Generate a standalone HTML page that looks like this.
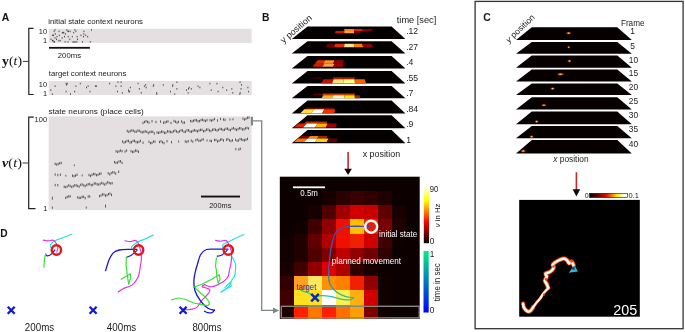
<!DOCTYPE html>
<html><head><meta charset="utf-8"><title>Figure</title>
<style>html,body{margin:0;padding:0;background:#fff;}body{width:685px;height:332px;overflow:hidden;font-family:"Liberation Sans",sans-serif;}svg{display:block;will-change:transform}</style>
</head><body>
<svg width="685" height="332" viewBox="0 0 685 332" font-family="Liberation Sans, sans-serif">
<text x="1.7" y="21.1" font-size="10.4" text-anchor="start" fill="#111" font-weight="bold">A</text>
<text x="48.2" y="24.0" font-size="7.8" text-anchor="start" fill="#1a1a1a" textLength="94.8" lengthAdjust="spacingAndGlyphs">initial state context neurons</text>
<rect x="48.7" y="28.8" width="203" height="14.1" fill="#e4e0e1"/>
<text x="47.1" y="33.6" font-size="7.4" text-anchor="end" fill="#1a1a1a">10</text>
<text x="47.1" y="42.7" font-size="7.4" text-anchor="end" fill="#1a1a1a">1</text>
<path d="M33.5 28.3H28.8V94.5H33.7" fill="none" stroke="#222" stroke-width="1.2"/>
<path d="M22.8 61.4H28.8" stroke="#222" stroke-width="0.9"/>
<rect x="49" y="46.9" width="40.9" height="1.8" fill="#111"/>
<text x="69.4" y="57.6" font-size="7.7" text-anchor="middle" fill="#1a1a1a" textLength="23.2" lengthAdjust="spacingAndGlyphs">200ms</text>
<text x="2.1" y="65.3" font-family="Liberation Serif, serif" font-size="13" fill="#111" textLength="20" lengthAdjust="spacingAndGlyphs"><tspan font-weight="bold">y</tspan>(<tspan font-style="italic">t</tspan>)</text>
<text x="48.8" y="76.1" font-size="7.8" text-anchor="start" fill="#1a1a1a" textLength="77.5" lengthAdjust="spacingAndGlyphs">target context neurons</text>
<rect x="48.7" y="81" width="203" height="14" fill="#e4e0e1"/>
<text x="47.1" y="86.7" font-size="7.4" text-anchor="end" fill="#1a1a1a">10</text>
<text x="47.1" y="95.5" font-size="7.4" text-anchor="end" fill="#1a1a1a">1</text>
<path d="M63.8 31.9v1.5M66.8 29.2v1.5M53.1 39.9v1.5M54.0 41.2v1.5M52.5 39.9v1.5M59.1 30.6v1.5M68.4 30.6v1.5M60.2 39.9v1.5M68.0 41.2v1.5M55.3 33.2v1.5M76.8 41.2v1.5M90.3 41.2v1.5M74.9 29.2v1.5M91.5 29.2v1.5M73.7 31.9v1.5M62.3 31.9v1.5M73.0 41.2v1.5M63.1 31.9v1.5M54.4 41.2v1.5M77.2 35.9v1.5M54.1 30.6v1.5M74.0 41.2v1.5M58.8 39.9v1.5M68.2 35.9v1.5M69.8 38.6v1.5M65.4 33.2v1.5M83.8 33.2v1.5M53.5 34.6v1.5M72.3 35.9v1.5M81.0 34.6v1.5M75.9 30.6v1.5M55.0 37.2v1.5M57.0 35.9v1.5M56.5 38.6v1.5M67.9 30.6v1.5M82.5 41.2v1.5M83.5 35.9v1.5M64.5 35.9v1.5M75.3 41.2v1.5M83.9 30.6v1.5M85.7 34.6v1.5M70.1 30.6v1.5M52.6 34.6v1.5M77.5 38.6v1.5M62.1 37.2v1.5M87.7 35.9v1.5M51.0 38.6v1.5M65.1 41.2v1.5M55.0 29.2v1.5M59.3 34.6v1.5M75.9 85.4v1.5M129.6 90.8v1.5M66.1 90.8v1.5M130.3 86.8v1.5M226.7 89.4v1.5M222.8 86.8v1.5M191.3 88.1v1.5M186.5 89.4v1.5M241.5 84.1v1.5M66.6 84.1v1.5M96.4 85.4v1.5M52.4 93.4v1.5M86.5 86.8v1.5M50.8 89.4v1.5M156.9 93.4v1.5M163.3 84.1v1.5M188.1 92.1v1.5M240.0 81.5v1.5M141.3 92.1v1.5M128.5 89.4v1.5M128.8 90.8v1.5M176.9 81.5v1.5M88.1 85.4v1.5M138.1 82.8v1.5M118.0 81.5v1.5M70.5 93.4v1.5M80.3 82.8v1.5M239.8 93.4v1.5M55.1 85.4v1.5M172.8 84.1v1.5M176.9 88.1v1.5M170.5 90.8v1.5M74.6 90.8v1.5M248.6 90.8v1.5M146.1 86.8v1.5M67.2 82.8v1.5M199.9 86.8v1.5M145.7 84.1v1.5M153.3 85.4v1.5M240.2 92.1v1.5M122.4 92.1v1.5M232.8 92.1v1.5M109.6 82.8v1.5M189.2 86.8v1.5M153.7 84.1v1.5M121.1 85.4v1.5M156.5 92.1v1.5M115.9 85.4v1.5M172.6 85.4v1.5M211.2 89.4v1.5M198.0 85.4v1.5M90.0 90.8v1.5M121.1 81.5v1.5M247.9 86.8v1.5M144.4 85.4v1.5M188.5 88.1v1.5M139.4 88.1v1.5M241.0 88.1v1.5M66.1 82.8v1.5M95.4 85.4v1.5M117.5 90.8v1.5M174.8 93.4v1.5M218.1 90.8v1.5M231.8 88.1v1.5M209.9 82.8v1.5M216.9 82.8v1.5" stroke="#262626" stroke-width="0.8" fill="none"/>
<text x="48.4" y="113.7" font-size="8" text-anchor="start" fill="#1a1a1a" textLength="95.3" lengthAdjust="spacingAndGlyphs">state neurons (place cells)</text>
<rect x="48.6" y="116.3" width="203" height="93.8" fill="#e4e0e1"/>
<text x="47.1" y="122.1" font-size="7.5" text-anchor="end" fill="#1a1a1a">100</text>
<text x="47.3" y="210.5" font-size="7.5" text-anchor="end" fill="#1a1a1a">1</text>
<path d="M33.8 117.2H28.7V208.6H35.5" fill="none" stroke="#222" stroke-width="1.2"/>
<path d="M22.5 163H29" stroke="#222" stroke-width="0.9"/>
<text x="2" y="167" font-family="Liberation Serif, serif" font-size="13" fill="#111" textLength="20" lengthAdjust="spacingAndGlyphs"><tspan font-style="italic" font-weight="bold">&#957;</tspan>(<tspan font-style="italic">t</tspan>)</text>
<rect x="201" y="195.6" width="39" height="1.9" fill="#111"/>
<text x="220.3" y="208" font-size="7.2" text-anchor="middle" fill="#1a1a1a" textLength="22" lengthAdjust="spacingAndGlyphs">200ms</text>
<path d="M143.0 121.7v2.4M144.5 120.8v2.4M146.0 120.0v2.4M147.5 120.7v2.4M149.0 121.4v2.4M152.0 120.1v2.4M156.0 120.8v2.4M160.5 120.4v2.4M163.5 121.5v2.4M165.0 121.2v2.4M166.5 120.6v2.4M168.0 120.2v2.4M171.0 121.8v2.4M174.0 119.8v2.4M175.5 120.6v2.4M177.0 121.4v2.4M178.5 120.7v2.4M181.5 120.3v2.4M183.0 121.5v2.4M184.5 121.4v2.4M190.5 119.8v2.4M192.0 120.2v2.4M193.5 119.6v2.4M195.0 119.0v2.4M196.5 119.1v2.4M198.0 120.1v2.4M199.5 119.9v2.4M201.0 118.9v2.4M202.5 118.6v2.4M204.0 119.3v2.4M205.5 119.8v2.4M207.0 118.9v2.4M210.0 118.9v2.4M211.5 119.5v2.4M213.0 118.8v2.4M214.5 117.8v2.4M217.5 119.3v2.4M220.5 117.8v2.4M223.5 118.3v2.4M225.0 118.7v2.4M230.0 118.5v2.0M233.0 118.3v2.0M243.0 117.4v2.4M244.5 118.3v2.4M246.0 117.7v2.4M247.5 116.5v2.4M249.0 116.4v2.4M127.3 129.8v2.4M128.8 130.7v2.4M130.3 129.9v2.4M131.8 129.2v2.4M133.3 129.5v2.4M134.8 130.5v2.4M136.3 130.5v2.4M137.8 129.4v2.4M139.3 129.6v2.4M140.8 130.6v2.4M142.3 131.2v2.4M143.8 130.7v2.4M145.3 130.2v2.4M146.8 130.6v2.4M148.3 131.8v2.4M149.8 130.9v2.4M151.3 130.6v2.4M152.8 130.6v2.4M154.3 132.2v2.4M157.0 131.3v2.4M158.5 131.7v2.4M160.0 131.2v2.4M161.5 130.5v2.4M163.0 130.7v2.4M164.5 131.7v2.4M166.0 131.6v2.4M167.5 130.1v2.4M169.0 130.3v2.4M170.5 130.8v2.4M172.0 131.1v2.4M173.5 130.1v2.4M175.0 129.4v2.4M176.5 130.2v2.4M178.0 131.0v2.4M179.5 130.2v2.4M181.0 129.1v2.4M182.5 129.4v2.4M184.0 130.7v2.4M185.5 130.5v2.4M187.0 129.1v2.4M188.5 129.1v2.4M190.0 130.3v2.4M191.5 130.5v2.4M193.0 129.7v2.4M194.5 129.0v2.4M196.0 129.6v2.4M197.5 130.1v2.4M199.0 129.3v2.4M200.5 128.7v2.4M202.0 128.7v2.4M203.5 130.0v2.4M205.0 129.7v2.4M206.5 128.4v2.4M208.0 128.3v2.4M209.5 129.3v2.4M211.0 129.9v2.4M212.5 128.6v2.4M214.0 128.2v2.4M215.5 128.6v2.4M217.0 129.3v2.4M218.5 128.7v2.4M220.0 127.7v2.4M221.5 127.9v2.4M223.0 128.9v2.4M224.5 128.5v2.4M226.0 127.5v2.4M227.5 127.5v2.4M229.0 128.5v2.4M230.5 129.0v2.4M232.0 127.6v2.4M233.5 126.9v2.4M235.0 127.9v2.4M236.5 128.7v2.4M238.0 127.9v2.4M239.5 127.1v2.4M241.0 127.2v2.4M242.5 128.3v2.4M244.0 128.1v2.4M245.5 127.1v2.4M247.0 126.7v2.4M248.5 127.3v2.4M122.5 140.3v2.4M124.0 141.4v2.4M125.5 140.7v2.4M127.0 139.8v2.4M128.5 139.8v2.4M130.0 141.3v2.4M131.5 141.0v2.4M133.0 139.7v2.4M134.5 139.7v2.4M136.0 140.8v2.4M137.5 141.1v2.4M139.0 140.7v2.4M140.5 139.7v2.4M143.0 141.5v2.4M149.0 140.6v2.4M150.5 142.0v2.4M152.0 141.7v2.4M153.5 140.3v2.4M155.0 140.5v2.4M159.5 140.8v2.4M161.0 140.1v2.4M162.5 141.1v2.4M164.0 141.9v2.4M167.0 140.0v2.4M171.5 141.0v2.4M178.6 140.5v2.0M185.3 140.3v2.4M186.8 140.7v2.4M188.3 140.0v2.4M191.3 139.4v2.4M192.8 140.4v2.4M195.8 139.0v2.4M197.3 138.3v2.4M198.8 139.5v2.4M200.3 139.6v2.4M201.8 138.6v2.4M203.3 138.2v2.4M207.0 139.5v2.0M210.0 139.6v2.4M211.5 139.9v2.4M214.5 138.8v2.4M216.0 138.8v2.4M217.5 140.2v2.4M219.0 139.6v2.4M220.5 138.5v2.4M222.0 138.2v2.4M223.5 139.3v2.4M226.5 138.6v2.4M228.0 137.9v2.4M229.5 139.2v2.4M231.0 139.8v2.4M232.5 139.2v2.4M235.5 138.5v2.4M237.0 139.5v2.4M238.5 139.3v2.4M240.0 137.9v2.4M241.5 138.2v2.4M243.0 138.9v2.4M244.5 139.1v2.4M246.0 138.5v2.4M247.5 137.7v2.4M116.1 150.1v2.4M117.6 150.7v2.4M119.1 150.1v2.4M120.6 149.4v2.4M122.1 150.0v2.4M125.1 150.4v2.4M126.6 149.3v2.4M131.0 150.0v2.4M132.5 150.8v2.4M134.0 150.5v2.4M135.5 149.3v2.4M137.0 149.7v2.4M138.5 150.6v2.4M235.8 147.9v2.4M238.8 148.3v2.4M240.3 147.6v2.4M114.5 160.9v2.4M116.0 161.7v2.4M117.5 161.4v2.4M119.0 160.3v2.4M120.5 160.1v2.4M122.0 161.6v2.4M55.2 162.7v2.4M56.7 163.3v2.4M58.2 162.9v2.4M59.7 162.0v2.4M61.2 161.8v2.4M74.3 164.4v1.8M55.2 173.3v2.4M57.8 173.9v2.4M60.4 173.5v2.4M65.8 174.8v1.8M72.5 174.5v2.4M74.0 175.0v2.4M75.5 174.4v2.4M77.0 173.6v2.4M82.2 174.6v1.8M89.0 173.8v2.4M90.5 174.7v2.4M92.0 173.7v2.4M93.5 172.8v2.4M95.0 173.0v2.4M96.5 174.0v2.4M98.0 173.5v2.4M99.5 172.7v2.4M101.0 172.4v2.4M108.2 172.0v2.4M109.7 173.2v2.4M111.2 172.0v2.4M112.7 171.1v2.4M114.2 171.3v2.4M115.7 172.4v2.4M118.7 170.6v2.4M55.2 183.9v2.4M57.8 184.0v2.4M64.2 185.6v2.4M65.7 186.0v2.4M67.2 185.3v2.4M68.7 184.2v2.4M70.2 184.8v2.4M71.7 185.8v2.4M73.2 185.1v2.4M74.7 184.1v2.4M76.2 184.2v2.4M77.7 184.8v2.4M79.2 185.4v2.4M80.7 183.7v2.4M82.2 183.2v2.4M83.7 184.2v2.4M85.2 184.9v2.4M86.7 183.8v2.4M88.2 183.1v2.4M89.7 182.8v2.4M91.2 184.0v2.4M92.7 183.7v2.4M94.2 182.3v2.4M95.7 182.3v2.4M97.2 183.1v2.4M98.7 183.4v2.4M100.2 182.7v2.4M101.7 181.7v2.4M103.2 182.4v2.4M104.7 183.4v2.4M106.2 182.3v2.4M107.7 181.1v2.4M109.2 181.8v2.4M110.7 182.2v2.4M112.2 182.0v2.4M52.4 196.7v3.0M65.7 196.6v2.4M67.2 195.8v2.4M68.7 195.2v2.4M70.2 195.2v2.4M77.7 196.2v2.4M79.2 196.7v2.4M80.7 196.6v2.4M82.2 195.7v2.4M83.7 195.6v2.4M85.2 197.0v2.4M88.2 195.3v2.4M89.7 195.3v2.4M99.5 195.0v2.4M101.0 194.3v2.4M102.5 193.2v2.4M104.0 193.3v2.4M105.5 194.5v2.4M107.0 194.0v2.4M108.5 192.9v2.4M110.0 192.5v2.4M111.5 193.7v2.4M52.4 206.6v2.2M86.3 206.6v2.0M105.5 204.6v3.0" stroke="#1c1c1c" stroke-width="0.68" fill="none"/>
<rect x="250.9" y="116.8" width="2.1" height="8.6" fill="#7e8883"/>
<path d="M253 120.9H261.7V310.4H274" fill="none" stroke="#7e8883" stroke-width="1.3"/>
<path d="M273 307.4L279.2 310.4L273 313.5Z" fill="#7e8883"/>
<text x="0.3" y="236.8" font-size="10.2" text-anchor="start" fill="#111" font-weight="bold">D</text>
<path d="M71.5 234.3 C69.9 234.9 64.8 236.9 62.0 238.0 C59.2 239.1 56.8 239.7 54.9 240.8 C53.0 241.9 51.2 243.4 50.5 244.5 C49.8 245.6 50.8 247.0 50.8 247.5" fill="none" stroke="#20e0e8" stroke-width="1.15" stroke-linejoin="round" stroke-linecap="round"/>
<path d="M43.3 240.1 C44.1 240.2 46.5 240.9 48.1 240.9 C49.7 240.9 51.5 240.0 52.6 240.1 C53.7 240.2 54.0 240.5 54.9 241.6 C55.8 242.7 57.6 245.2 57.9 246.9 C58.2 248.7 57.0 251.2 56.8 252.1" fill="none" stroke="#e030e0" stroke-width="1.15" stroke-linejoin="round" stroke-linecap="round"/>
<path d="M54.9 249.9 C54.3 250.7 52.4 253.4 51.1 254.4 C49.8 255.4 48.2 255.9 47.3 255.9 C46.4 255.9 46.0 254.7 45.8 254.4" fill="none" stroke="#1818c8" stroke-width="1.15" stroke-linejoin="round" stroke-linecap="round"/>
<path d="M45.8 253.6 C45.6 254.2 45.0 256.0 44.8 257.4 C44.5 258.8 44.4 260.4 44.3 262.0 C44.1 263.6 44.0 266.3 43.9 267.2" fill="none" stroke="#30e030" stroke-width="1.15" stroke-linejoin="round" stroke-linecap="round"/>
<circle cx="56.4" cy="250" r="4.7" fill="none" stroke="#e01818" stroke-width="2.4"/>
<path d="M7.699999999999999 306.8L14.7 313.8M7.699999999999999 313.8L14.7 306.8" stroke="#1018d8" stroke-width="2.3" fill="none"/>
<text x="39.5" y="330.8" font-size="10.4" text-anchor="middle" fill="#1a1a1a" textLength="29.3" lengthAdjust="spacingAndGlyphs">200ms</text>
<path d="M153.5 235.1 C152.1 235.8 147.8 237.8 145.0 239.0 C142.2 240.2 139.1 241.2 136.9 242.5 C134.7 243.8 132.4 245.6 131.7 246.8 C131.0 248.0 132.4 249.1 132.5 249.5" fill="none" stroke="#20e0e8" stroke-width="1.15" stroke-linejoin="round" stroke-linecap="round"/>
<path d="M125.0 240.7 C125.8 240.8 128.2 241.6 129.9 241.6 C131.6 241.6 133.8 240.2 135.1 240.4 C136.4 240.6 136.9 240.7 137.8 242.5 C138.7 244.3 140.1 248.3 140.7 251.2 C141.3 254.1 141.4 257.4 141.3 259.9 C141.2 262.4 140.6 264.3 140.3 266.0 C140.1 267.7 140.2 268.1 139.8 270.0 C139.4 271.9 139.2 275.0 137.9 277.5 C136.7 280.0 134.8 283.0 132.3 284.9 C129.8 286.8 125.3 287.5 123.0 288.7 C120.7 289.9 119.1 291.4 118.3 292.0" fill="none" stroke="#e030e0" stroke-width="1.15" stroke-linejoin="round" stroke-linecap="round"/>
<path d="M136.9 249.4 C135.7 249.4 132.8 249.3 129.9 249.4 C127.0 249.5 122.2 249.4 119.4 250.0 C116.6 250.6 115.0 251.2 113.3 252.9 C111.6 254.6 110.0 257.7 109.0 259.9 C108.0 262.1 107.6 264.2 107.0 266.0 C106.4 267.8 105.8 269.9 105.5 270.7" fill="none" stroke="#1818c8" stroke-width="1.3" stroke-linejoin="round" stroke-linecap="round"/>
<path d="M137.0 250.5 C136.0 251.3 132.6 254.4 130.8 255.5 C129.0 256.6 127.1 257.0 126.4 257.3" fill="none" stroke="#1818c8" stroke-width="1.15" stroke-linejoin="round" stroke-linecap="round"/>
<path d="M126.4 257.3 C126.4 258.6 126.0 263.0 126.1 265.1 C126.1 267.2 126.5 268.2 126.7 270.0 C126.9 271.8 127.2 273.7 127.5 276.0 C127.8 278.3 128.4 282.7 128.6 284.0" fill="none" stroke="#30e030" stroke-width="1.15" stroke-linejoin="round" stroke-linecap="round"/>
<path d="M121.1 279.3 L130.2 273.7 L130.9 277.4 L128.6 284.0" fill="none" stroke="#30e030" stroke-width="1.15" stroke-linejoin="round" stroke-linecap="round"/>
<circle cx="138.6" cy="250" r="4.7" fill="none" stroke="#e01818" stroke-width="2.4"/>
<path d="M89.6 306.8L96.6 313.8M89.6 313.8L96.6 306.8" stroke="#1018d8" stroke-width="2.3" fill="none"/>
<text x="121.5" y="330.8" font-size="10.4" text-anchor="middle" fill="#1a1a1a" textLength="29.3" lengthAdjust="spacingAndGlyphs">400ms</text>
<path d="M243.7 234.6 C242.2 235.2 237.6 237.2 235.0 238.5 C232.4 239.8 230.0 241.1 228.0 242.1 C226.0 243.1 223.8 243.5 223.0 244.6 C222.2 245.7 223.0 247.8 223.0 248.5" fill="none" stroke="#20e0e8" stroke-width="1.15" stroke-linejoin="round" stroke-linecap="round"/>
<path d="M232.1 257.0 C232.7 258.1 234.8 261.4 235.4 263.6 C236.0 265.8 235.5 267.9 235.4 270.0 C235.3 272.1 235.1 274.4 234.6 276.0 C234.1 277.6 233.2 277.5 232.2 279.3 C231.2 281.1 230.4 284.7 228.5 286.8 C226.6 288.9 222.2 291.1 221.0 292.0" fill="none" stroke="#20e0e8" stroke-width="1.15" stroke-linejoin="round" stroke-linecap="round"/>
<path d="M221.0 292.0 L226.6 288.7 L231.3 285.9 L230.4 282.1 L224.8 287.7" fill="none" stroke="#20e0e8" stroke-width="1.15" stroke-linejoin="round" stroke-linecap="round"/>
<path d="M215.6 240.4 C216.4 240.5 218.8 241.2 220.5 241.2 C222.2 241.2 224.2 240.1 225.5 240.4 C226.8 240.7 227.0 241.1 228.0 242.9 C229.0 244.7 230.8 248.2 231.3 251.2 C231.9 254.2 231.6 258.0 231.3 261.1 C231.0 264.2 230.1 267.3 229.5 270.0 C228.9 272.7 229.0 275.3 227.6 277.5 C226.2 279.7 223.7 281.6 221.0 283.1 C218.3 284.7 214.4 286.6 211.7 286.8 C208.9 287.1 205.7 285.0 204.5 284.6" fill="none" stroke="#e030e0" stroke-width="1.15" stroke-linejoin="round" stroke-linecap="round"/>
<path d="M204.5 284.6 C204.2 285.0 201.5 286.0 202.4 286.8 C203.3 287.6 209.0 288.2 209.8 289.6 C210.6 291.0 208.4 293.3 207.0 295.2 C205.6 297.1 203.1 298.8 201.4 300.8 C199.7 302.8 198.8 305.9 196.8 307.4 C194.8 308.9 191.2 309.2 189.3 309.6 C187.4 310.0 186.1 309.6 185.5 309.6" fill="none" stroke="#e030e0" stroke-width="1.15" stroke-linejoin="round" stroke-linecap="round"/>
<path d="M228.0 249.2 C226.1 249.2 220.0 249.1 216.4 249.2 C212.8 249.2 209.1 248.6 206.5 249.5 C203.9 250.4 202.2 252.0 200.7 254.5 C199.2 257.0 198.2 261.8 197.4 264.4 C196.6 267.0 196.4 267.5 195.8 270.0 C195.2 272.5 194.2 275.9 194.0 279.3 C193.8 282.7 193.8 286.9 194.9 290.5 C196.0 294.1 198.3 297.8 200.5 300.8 C202.7 303.8 205.7 306.7 208.0 308.3 C210.3 309.9 213.4 309.9 214.5 310.2" fill="none" stroke="#1818c8" stroke-width="1.3" stroke-linejoin="round" stroke-linecap="round"/>
<path d="M214.5 310.2 C214.1 310.6 213.2 312.3 212.0 312.7 C210.8 313.1 208.8 312.9 207.5 312.6 C206.2 312.4 205.0 311.4 204.5 311.2" fill="none" stroke="#1818c8" stroke-width="1.3" stroke-linejoin="round" stroke-linecap="round"/>
<path d="M227.0 250.5 C226.1 251.3 223.0 254.4 221.4 255.3 C219.8 256.2 217.9 256.0 217.2 256.1" fill="none" stroke="#1818c8" stroke-width="1.15" stroke-linejoin="round" stroke-linecap="round"/>
<path d="M216.4 257.8 C216.3 259.2 215.6 264.1 215.6 266.1 C215.6 268.1 216.2 268.4 216.4 270.0 C216.6 271.6 216.5 273.8 216.8 276.0 C217.1 278.2 218.0 281.9 218.2 283.1" fill="none" stroke="#30e030" stroke-width="1.15" stroke-linejoin="round" stroke-linecap="round"/>
<path d="M218.2 283.1 L220.1 279.3 L219.2 274.7 L211.7 279.3 L202.4 284.0 L194.9 286.8" fill="none" stroke="#30e030" stroke-width="1.15" stroke-linejoin="round" stroke-linecap="round"/>
<path d="M194.9 286.8 C195.2 287.3 195.2 288.0 196.8 289.6 C198.4 291.2 202.2 294.2 204.2 296.2 C206.2 298.2 208.3 300.2 208.9 301.8 C209.5 303.4 209.1 305.0 208.0 305.5 C206.9 306.0 204.9 305.1 202.4 304.6 C199.9 304.1 195.8 303.6 193.0 302.7 C190.2 301.8 188.0 300.3 185.5 299.5 C183.0 298.7 180.4 297.9 178.1 298.0 C175.8 298.1 172.6 299.6 171.5 299.9" fill="none" stroke="#30e030" stroke-width="1.15" stroke-linejoin="round" stroke-linecap="round"/>
<circle cx="228.3" cy="250" r="4.7" fill="none" stroke="#e01818" stroke-width="2.4"/>
<path d="M179.6 306.7L186.6 313.7M179.6 313.7L186.6 306.7" stroke="#1018d8" stroke-width="2.3" fill="none"/>
<text x="207" y="330.8" font-size="10.4" text-anchor="middle" fill="#1a1a1a" textLength="29" lengthAdjust="spacingAndGlyphs">800ms</text>
<text x="262" y="20.6" font-size="10.3" text-anchor="start" fill="#111" font-weight="bold">B</text>
<text transform="translate(283.6,43.6) rotate(-40.5)" font-size="8.8" fill="#1a1a1a" textLength="38.2" lengthAdjust="spacingAndGlyphs">y position</text>
<text x="396.8" y="23" font-size="8.6" text-anchor="start" fill="#1a1a1a" textLength="39.5" lengthAdjust="spacingAndGlyphs">time [sec]</text>
<path d="M307.5 26.6L391.6 26.6L405.4 38.9L291.8 38.9Z" fill="#050000"/>
<path d="M344.4 28.9L353.9 28.9L354.1 31L344.2 31Z" fill="#ff8020"/>
<path d="M353.9 28.9L362.3 28.9L363.1 31L354.1 31Z" fill="#e02000"/>
<path d="M362.3 28.9L371.7 28.9L372.9 31L363.1 31Z" fill="#800000"/>
<path d="M335.6 31L344.4 31L344.2 33.2L334.8 33.2Z" fill="#e01000"/>
<path d="M344.4 31L353.9 31L354.1 33.2L344.2 33.2Z" fill="#ffa030"/>
<path d="M353.9 31L359.7 31L360.3 33.2L354.1 33.2Z" fill="#700000"/>
<path d="M307.5 41.3L391.6 41.3L405.4 53.5L291.8 53.5Z" fill="#050000"/>
<path d="M327.8 43.75L335.3 43.75L334.1 47.15L325.8 47.15Z" fill="#700000"/>
<path d="M335.3 43.75L344.5 43.75L344.1 47.15L334.1 47.15Z" fill="#e03000"/>
<path d="M344.5 43.75L353.8 43.75L354.2 47.15L344.1 47.15Z" fill="#ffe0a0"/>
<path d="M353.8 43.75L362.1 43.75L363.3 47.15L354.2 47.15Z" fill="#ff8000"/>
<path d="M362.1 43.75L371.3 43.75L373.3 47.15L363.3 47.15Z" fill="#900000"/>
<path d="M307.5 56.1L391.6 56.1L405.4 68.4L291.8 68.4Z" fill="#050000"/>
<path d="M317.7 60.3L325.3 60.3L323.1 63.8L314.9 63.8Z" fill="#e03000"/>
<path d="M325.3 60.3L334.5 60.3L333.1 63.8L323.1 63.8Z" fill="#ff9020"/>
<path d="M334.5 60.3L343.7 60.3L343.1 63.8L333.1 63.8Z" fill="#900000"/>
<path d="M314.9 63.8L324.2 63.8L322.4 66.8L312.5 66.8Z" fill="#d02000"/>
<path d="M324.2 63.8L334.3 63.8L333.3 66.8L322.4 66.8Z" fill="#ffa040"/>
<path d="M334.3 63.8L343.6 63.8L343.2 66.8L333.3 66.8Z" fill="#a00000"/>
<path d="M307.5 71.1L391.6 71.1L405.4 83.4L291.8 83.4Z" fill="#050000"/>
<path d="M313.7 77.15L322.2 77.15L320.8 79.15L311.9 79.15Z" fill="#300000"/>
<path d="M333.3 77.15L354.7 77.15L354.9 79.15L332.5 79.15Z" fill="#a02000"/>
<path d="M323.7 79.15L333.7 79.15L332.1 83.35L321.1 83.35Z" fill="#c01000"/>
<path d="M333.7 79.15L343.7 79.15L343.1 83.35L332.1 83.35Z" fill="#ffe080"/>
<path d="M343.7 79.15L354.6 79.15L355.0 83.35L343.1 83.35Z" fill="#ffff80"/>
<path d="M354.6 79.15L364.6 79.15L366.0 83.35L355.0 83.35Z" fill="#ff6000"/>
<path d="M307.5 85.9L391.6 85.9L405.4 98.3L291.8 98.3Z" fill="#050000"/>
<path d="M313.6 93.4L323.0 93.4L321.8 95.2L312.0 95.2Z" fill="#500000"/>
<path d="M323.0 93.4L354.7 93.4L354.9 95.2L321.8 95.2Z" fill="#c04000"/>
<path d="M323.3 95.2L333.5 95.2L332.3 98.3L321.5 98.3Z" fill="#ffb020"/>
<path d="M333.5 95.2L344.5 95.2L344.1 98.3L332.3 98.3Z" fill="#fff0c0"/>
<path d="M344.5 95.2L354.6 95.2L355.0 98.3L344.1 98.3Z" fill="#ffe000"/>
<path d="M354.6 95.2L359.6 95.2L360.4 98.3L355.0 98.3Z" fill="#a02000"/>
<path d="M307.5 100.6L391.6 100.6L405.4 113.5L291.8 113.5Z" fill="#050000"/>
<path d="M306.8 107.65L334.3 107.65L333.7 109.25L305.2 109.25Z" fill="#701000"/>
<path d="M304.2 109.25L314.3 109.25L311.3 113.15L300.4 113.15Z" fill="#ffe040"/>
<path d="M314.3 109.25L324.4 109.25L322.2 113.15L311.3 113.15Z" fill="#fffff0"/>
<path d="M324.4 109.25L335.3 109.25L334.1 113.15L322.2 113.15Z" fill="#f03000"/>
<path d="M307.5 115.3L391.6 115.3L405.4 128.3L291.8 128.3Z" fill="#050000"/>
<path d="M306.1 121.5L327.3 121.5L326.3 123.6L303.9 123.6Z" fill="#c03000"/>
<path d="M298.3 123.6L306.7 123.6L303.1 127.5L293.9 127.5Z" fill="#e02000"/>
<path d="M306.7 123.6L317.7 123.6L314.9 127.5L303.1 127.5Z" fill="#fffff0"/>
<path d="M317.7 123.6L327.7 123.6L325.9 127.5L314.9 127.5Z" fill="#ffb000"/>
<path d="M327.7 123.6L336.9 123.6L335.9 127.5L325.9 127.5Z" fill="#a00000"/>
<path d="M307.5 130.1L391.6 130.1L405.4 143.3L291.8 143.3Z" fill="#050000"/>
<path d="M301.3 136.05L310.1 136.05L307.9 138.45L298.7 138.45Z" fill="#800000"/>
<path d="M310.1 136.05L318.8 136.05L317.2 138.45L307.9 138.45Z" fill="#ff8000"/>
<path d="M318.8 136.05L327.6 136.05L326.4 138.45L317.2 138.45Z" fill="#a02000"/>
<path d="M298.1 138.45L307.4 138.45L304.2 141.95L294.1 141.95Z" fill="#ff7000"/>
<path d="M307.4 138.45L317.5 138.45L315.1 141.95L304.2 141.95Z" fill="#fffff0"/>
<path d="M317.5 138.45L328.5 138.45L326.9 141.95L315.1 141.95Z" fill="#ffd000"/>
<path d="M328.5 138.45L337.7 138.45L336.9 141.95L326.9 141.95Z" fill="#600000"/>
<text x="406.2" y="34.3" font-size="8.6" text-anchor="start" fill="#1a1a1a">.12</text>
<text x="406.2" y="49.8" font-size="8.6" text-anchor="start" fill="#1a1a1a">.27</text>
<text x="406.2" y="65.1" font-size="8.6" text-anchor="start" fill="#1a1a1a">.4</text>
<text x="406.2" y="80.5" font-size="8.6" text-anchor="start" fill="#1a1a1a">.55</text>
<text x="406.2" y="96" font-size="8.6" text-anchor="start" fill="#1a1a1a">.7</text>
<text x="406.2" y="111.7" font-size="8.6" text-anchor="start" fill="#1a1a1a">.84</text>
<text x="406.2" y="127" font-size="8.6" text-anchor="start" fill="#1a1a1a">.9</text>
<text x="406.2" y="142.8" font-size="8.6" text-anchor="start" fill="#1a1a1a">1</text>
<text x="362.7" y="156.6" font-size="8.7" text-anchor="start" fill="#1a1a1a" textLength="37.5" lengthAdjust="spacingAndGlyphs">x position</text>
<path d="M348.1 152V169.8" stroke="#c82828" stroke-width="1.6"/>
<path d="M344.3 168.8H351.90000000000003L348.1 175Z" fill="#0a0a0a"/>
<rect x="279.8" y="176.7" width="139.90" height="142.20" fill="#0c0000"/>
<g shape-rendering="crispEdges">
<rect x="321.77" y="190.92" width="14.04" height="14.27" fill="#180000"/>
<rect x="335.76" y="190.92" width="14.04" height="14.27" fill="#2a0000"/>
<rect x="349.75" y="190.92" width="14.04" height="14.27" fill="#380000"/>
<rect x="363.74" y="190.92" width="14.04" height="14.27" fill="#300000"/>
<rect x="377.73" y="190.92" width="14.04" height="14.27" fill="#200000"/>
<rect x="307.78" y="205.14" width="14.04" height="14.27" fill="#180000"/>
<rect x="321.77" y="205.14" width="14.04" height="14.27" fill="#500000"/>
<rect x="335.76" y="205.14" width="14.04" height="14.27" fill="#a00000"/>
<rect x="349.75" y="205.14" width="14.04" height="14.27" fill="#d00000"/>
<rect x="363.74" y="205.14" width="14.04" height="14.27" fill="#c80000"/>
<rect x="377.73" y="205.14" width="14.04" height="14.27" fill="#600000"/>
<rect x="391.72" y="205.14" width="14.04" height="14.27" fill="#180000"/>
<rect x="293.79" y="219.36" width="14.04" height="14.27" fill="#100000"/>
<rect x="307.78" y="219.36" width="14.04" height="14.27" fill="#400000"/>
<rect x="321.77" y="219.36" width="14.04" height="14.27" fill="#900000"/>
<rect x="335.76" y="219.36" width="14.04" height="14.27" fill="#f01000"/>
<rect x="349.75" y="219.36" width="14.04" height="14.27" fill="#ffc000"/>
<rect x="363.74" y="219.36" width="14.04" height="14.27" fill="#e82000"/>
<rect x="377.73" y="219.36" width="14.04" height="14.27" fill="#780000"/>
<rect x="391.72" y="219.36" width="14.04" height="14.27" fill="#200000"/>
<rect x="279.80" y="233.58" width="14.04" height="14.27" fill="#100000"/>
<rect x="293.79" y="233.58" width="14.04" height="14.27" fill="#200000"/>
<rect x="307.78" y="233.58" width="14.04" height="14.27" fill="#600000"/>
<rect x="321.77" y="233.58" width="14.04" height="14.27" fill="#b00000"/>
<rect x="335.76" y="233.58" width="14.04" height="14.27" fill="#f01000"/>
<rect x="349.75" y="233.58" width="14.04" height="14.27" fill="#f02000"/>
<rect x="363.74" y="233.58" width="14.04" height="14.27" fill="#d00000"/>
<rect x="377.73" y="233.58" width="14.04" height="14.27" fill="#400000"/>
<rect x="391.72" y="233.58" width="14.04" height="14.27" fill="#100000"/>
<rect x="279.80" y="247.80" width="14.04" height="14.27" fill="#100000"/>
<rect x="293.79" y="247.80" width="14.04" height="14.27" fill="#200000"/>
<rect x="307.78" y="247.80" width="14.04" height="14.27" fill="#500000"/>
<rect x="321.77" y="247.80" width="14.04" height="14.27" fill="#800000"/>
<rect x="335.76" y="247.80" width="14.04" height="14.27" fill="#c00000"/>
<rect x="349.75" y="247.80" width="14.04" height="14.27" fill="#900000"/>
<rect x="363.74" y="247.80" width="14.04" height="14.27" fill="#700000"/>
<rect x="377.73" y="247.80" width="14.04" height="14.27" fill="#300000"/>
<rect x="279.80" y="262.02" width="14.04" height="14.27" fill="#180000"/>
<rect x="293.79" y="262.02" width="14.04" height="14.27" fill="#400000"/>
<rect x="307.78" y="262.02" width="14.04" height="14.27" fill="#900000"/>
<rect x="321.77" y="262.02" width="14.04" height="14.27" fill="#e00000"/>
<rect x="335.76" y="262.02" width="14.04" height="14.27" fill="#b00000"/>
<rect x="349.75" y="262.02" width="14.04" height="14.27" fill="#300000"/>
<rect x="363.74" y="262.02" width="14.04" height="14.27" fill="#180000"/>
<rect x="279.80" y="276.24" width="14.04" height="14.27" fill="#300000"/>
<rect x="293.79" y="276.24" width="14.04" height="14.27" fill="#ffa020"/>
<rect x="307.78" y="276.24" width="14.04" height="14.27" fill="#ffe860"/>
<rect x="321.77" y="276.24" width="14.04" height="14.27" fill="#ff9000"/>
<rect x="335.76" y="276.24" width="14.04" height="14.27" fill="#ff8000"/>
<rect x="349.75" y="276.24" width="14.04" height="14.27" fill="#f02000"/>
<rect x="363.74" y="276.24" width="14.04" height="14.27" fill="#900000"/>
<rect x="377.73" y="276.24" width="14.04" height="14.27" fill="#100000"/>
<rect x="279.80" y="290.46" width="14.04" height="14.27" fill="#400000"/>
<rect x="293.79" y="290.46" width="14.04" height="14.27" fill="#ffe020"/>
<rect x="307.78" y="290.46" width="14.04" height="14.27" fill="#ffe020"/>
<rect x="321.77" y="290.46" width="14.04" height="14.27" fill="#ffffff"/>
<rect x="335.76" y="290.46" width="14.04" height="14.27" fill="#ffee50"/>
<rect x="349.75" y="290.46" width="14.04" height="14.27" fill="#ffb010"/>
<rect x="363.74" y="290.46" width="14.04" height="14.27" fill="#d00000"/>
<rect x="377.73" y="290.46" width="14.04" height="14.27" fill="#100000"/>
<rect x="279.80" y="304.68" width="14.04" height="14.27" fill="#200000"/>
<rect x="293.79" y="304.68" width="14.04" height="14.27" fill="#ff2000"/>
<rect x="307.78" y="304.68" width="14.04" height="14.27" fill="#ff7800"/>
<rect x="321.77" y="304.68" width="14.04" height="14.27" fill="#ff2000"/>
<rect x="335.76" y="304.68" width="14.04" height="14.27" fill="#ff7000"/>
<rect x="349.75" y="304.68" width="14.04" height="14.27" fill="#ffa000"/>
<rect x="363.74" y="304.68" width="14.04" height="14.27" fill="#800000"/>
<rect x="377.73" y="304.68" width="14.04" height="14.27" fill="#100000"/>
</g>
<rect x="293" y="186.4" width="32" height="1.8" fill="#fff"/>
<text x="309.1" y="196" font-size="8.4" text-anchor="middle" fill="#fff" textLength="17.6" lengthAdjust="spacingAndGlyphs">0.5m</text>
<defs><linearGradient id="tg" gradientUnits="userSpaceOnUse" x1="0" y1="226" x2="0" y2="300">
<stop offset="0" stop-color="#4a48b8"/><stop offset="0.55" stop-color="#3a62b0"/><stop offset="0.85" stop-color="#2a9ab0"/><stop offset="1" stop-color="#20d0a8"/></linearGradient>
<linearGradient id="hot" x1="0" y1="1" x2="0" y2="0"><stop offset="0" stop-color="#000"/><stop offset="0.12" stop-color="#500000"/><stop offset="0.37" stop-color="#ff0000"/><stop offset="0.74" stop-color="#ffff00"/><stop offset="1" stop-color="#ffffff"/></linearGradient>
<linearGradient id="hoth" x1="0" y1="0" x2="1" y2="0"><stop offset="0" stop-color="#000"/><stop offset="0.15" stop-color="#400000"/><stop offset="0.45" stop-color="#e01000"/><stop offset="0.72" stop-color="#ffe000"/><stop offset="0.9" stop-color="#ffffe0"/><stop offset="1" stop-color="#ffffff"/></linearGradient>
<linearGradient id="win" x1="0" y1="1" x2="0" y2="0"><stop offset="0" stop-color="#0000ff"/><stop offset="1" stop-color="#00f080"/></linearGradient>
<filter id="bl" x="-20%" y="-20%" width="140%" height="140%"><feGaussianBlur stdDeviation="0.55"/></filter>
<radialGradient id="blob"><stop offset="0" stop-color="#ffd0a0"/><stop offset="0.3" stop-color="#e87828"/><stop offset="0.65" stop-color="#802000" stop-opacity="0.75"/><stop offset="1" stop-color="#200000" stop-opacity="0"/></radialGradient>
</defs>
<path d="M371.4 227.0 C370.0 226.9 366.9 226.5 363.3 226.4 C359.7 226.3 353.2 226.2 349.7 226.4 C346.2 226.6 344.6 226.6 342.2 227.7 C339.8 228.8 337.3 230.2 335.5 233.1 C333.7 236.0 332.6 240.6 331.6 245.1 C330.6 249.6 330.0 255.2 329.5 260.2 C329.0 265.2 328.5 271.2 328.6 275.2 C328.7 279.2 328.9 281.5 330.1 284.3 C331.4 287.1 333.6 289.8 336.1 291.8 C338.6 293.8 342.3 295.3 345.2 296.3 C348.1 297.3 352.2 297.6 353.6 297.8" fill="none" stroke="url(#tg)" stroke-width="1.3" stroke-linecap="round"/>
<path d="M353.6 297.8 C353.0 298.1 351.6 299.6 349.7 299.9 C347.8 300.1 345.5 299.9 342.2 299.3 C338.9 298.7 333.6 296.9 330.1 296.3 C326.6 295.7 323.6 295.6 321.1 295.7 C318.6 295.8 317.1 297.0 315.1 296.6 C313.1 296.2 311.4 294.2 309.0 293.2 C306.6 292.2 302.3 291.0 301.0 290.6" fill="none" stroke="#20c89c" stroke-width="1.2" stroke-linejoin="round" stroke-linecap="round"/>
<circle cx="371.2" cy="226.7" r="6" fill="none" stroke="#fff" stroke-width="2.4"/>
<text x="379.1" y="236.8" font-size="9" text-anchor="start" fill="#fff" textLength="38.2" lengthAdjust="spacingAndGlyphs">initial state</text>
<text x="331.8" y="264.1" font-size="8.7" text-anchor="start" fill="#fff" textLength="69.2" lengthAdjust="spacingAndGlyphs">planned movement</text>
<text x="296.6" y="289.9" font-size="8.2" text-anchor="start" fill="#2a1a9a" textLength="19.7" lengthAdjust="spacingAndGlyphs">target</text>
<path d="M311.2 293.8L318.8 301.40000000000003M311.2 301.40000000000003L318.8 293.8" stroke="#0828b8" stroke-width="2.4" fill="none"/>
<rect x="281.3" y="306.3" width="138" height="11.6" fill="none" stroke="#848a7e" stroke-width="1.4"/>
<rect x="423.8" y="185.8" width="5.2" height="57.4" fill="url(#hot)"/>
<text x="429.7" y="192.4" font-size="8.3" text-anchor="start" fill="#1a1a1a" textLength="8.5" lengthAdjust="spacingAndGlyphs">90</text>
<text x="429.7" y="244" font-size="8.3" text-anchor="start" fill="#1a1a1a">0</text>
<text transform="translate(440.1,227.2) rotate(-90)" font-size="8" fill="#1a1a1a" textLength="23.5" lengthAdjust="spacingAndGlyphs"><tspan font-style="italic">&#957;</tspan> in Hz</text>
<rect x="423.5" y="251" width="5.2" height="61.5" fill="url(#win)"/>
<text x="429.7" y="257.3" font-size="8.3" text-anchor="start" fill="#1a1a1a">1</text>
<text x="429.7" y="313.2" font-size="8.3" text-anchor="start" fill="#1a1a1a">0</text>
<text transform="translate(440.3,301.2) rotate(-90)" font-size="8.5" fill="#1a1a1a" textLength="38" lengthAdjust="spacingAndGlyphs">time in sec</text>
<rect x="475.1" y="1.4" width="208" height="327.3" fill="none" stroke="#333" stroke-width="1.3"/>
<text x="483.2" y="20.5" font-size="10.4" text-anchor="start" fill="#111" font-weight="bold">C</text>
<text transform="translate(509,43.2) rotate(-44)" font-size="8.4" fill="#1a1a1a" textLength="36.6" lengthAdjust="spacingAndGlyphs"><tspan font-style="italic">y</tspan> position</text>
<text x="620.9" y="25.8" font-size="9" text-anchor="start" fill="#1a1a1a" textLength="23.6" lengthAdjust="spacingAndGlyphs">Frame</text>
<path d="M531.8 27.2L617.3 27.2L631.8 39.9L516 39.9Z" fill="#060100"/>
<ellipse cx="568.7" cy="33.1" rx="3.2" ry="1.9" fill="url(#blob)"/>
<path d="M531.8 41.9L617.3 41.9L631.8 53.8L516 53.8Z" fill="#060100"/>
<ellipse cx="568.7" cy="47.2" rx="1.9" ry="1.7" fill="url(#blob)"/>
<path d="M531.8 55.6L617.3 55.6L631.8 67.8L516 67.8Z" fill="#060100"/>
<ellipse cx="569.4" cy="61" rx="2.6" ry="1.9" fill="url(#blob)"/>
<path d="M531.8 69.6L617.3 69.6L631.8 81.4L516 81.4Z" fill="#060100"/>
<ellipse cx="560.5" cy="74.2" rx="4.6" ry="1.9" fill="url(#blob)"/>
<path d="M531.8 83.5L617.3 83.5L631.8 95.0L516 95.0Z" fill="#060100"/>
<ellipse cx="552.6" cy="88.6" rx="2.8" ry="1.8" fill="url(#blob)"/>
<path d="M531.8 97.2L617.3 97.2L631.8 109.6L516 109.6Z" fill="#060100"/>
<ellipse cx="543.9" cy="105.2" rx="3.2" ry="1.7" fill="url(#blob)"/>
<path d="M531.8 111.4L617.3 111.4L631.8 124.3L516 124.3Z" fill="#060100"/>
<ellipse cx="536.7" cy="121.6" rx="2.5" ry="1.9" fill="url(#blob)"/>
<path d="M531.8 126.0L617.3 126.0L631.8 138.2L516 138.2Z" fill="#060100"/>
<ellipse cx="531.6" cy="136.7" rx="2.5" ry="1.9" fill="url(#blob)"/>
<path d="M531.8 140.1L617.3 140.1L631.8 153.6L516 153.6Z" fill="#060100"/>
<ellipse cx="523.2" cy="151" rx="3.4" ry="2.0" fill="url(#blob)"/>
<text x="630.2" y="33.7" font-size="8.4" text-anchor="start" fill="#1a1a1a">1</text>
<text x="630.2" y="49.4" font-size="8.4" text-anchor="start" fill="#1a1a1a">5</text>
<text x="628.8" y="62.6" font-size="8.4" text-anchor="start" fill="#1a1a1a">10</text>
<text x="628.8" y="75.9" font-size="8.4" text-anchor="start" fill="#1a1a1a">15</text>
<text x="628.8" y="90" font-size="8.4" text-anchor="start" fill="#1a1a1a">20</text>
<text x="628.8" y="103.8" font-size="8.4" text-anchor="start" fill="#1a1a1a">25</text>
<text x="628.8" y="117.6" font-size="8.4" text-anchor="start" fill="#1a1a1a">30</text>
<text x="628.8" y="132" font-size="8.4" text-anchor="start" fill="#1a1a1a">35</text>
<text x="628.8" y="146.7" font-size="8.4" text-anchor="start" fill="#1a1a1a">40</text>
<text x="553.3" y="162" font-size="8.2" fill="#1a1a1a" textLength="35.3" lengthAdjust="spacingAndGlyphs"><tspan font-style="italic">x</tspan> position</text>
<path d="M576.4 172.2V190.3" stroke="#c82828" stroke-width="1.6"/>
<path d="M572.6 189.3H580.1999999999999L576.4 196.4Z" fill="#0a0a0a"/>
<rect x="589.5" y="193.3" width="37.8" height="4.3" fill="url(#hoth)" stroke="#111" stroke-width="0.6"/>
<text x="588.7" y="198.2" font-size="7" text-anchor="end" fill="#1a1a1a">0</text>
<text x="628.6" y="198.3" font-size="7.2" text-anchor="start" fill="#1a1a1a" textLength="10.4" lengthAdjust="spacingAndGlyphs">0.1</text>
<rect x="519.2" y="199.9" width="120.6" height="116.8" fill="#000"/>
<g filter="url(#bl)">
<path d="M523.1 303.6 C523.3 304.3 523.4 306.5 524.1 307.7 C524.8 308.9 526.2 310.4 527.2 311.0 C528.2 311.6 529.3 311.7 530.3 311.0 C531.3 310.3 532.9 307.6 533.4 306.9" fill="none" stroke="#7a0c00" stroke-width="4.8" stroke-linejoin="round" stroke-linecap="round"/>
<path d="M533.4 306.9 C534.1 306.0 536.2 303.1 537.4 301.6 C538.6 300.1 539.6 299.4 540.5 298.1 C541.4 296.8 542.1 295.2 543.0 294.0 C543.9 292.8 544.7 291.9 545.6 290.9 C546.5 289.9 547.8 288.4 548.3 287.9" fill="none" stroke="#7a0c00" stroke-width="3.456" stroke-linejoin="round" stroke-linecap="round"/>
<path d="M548.3 287.9 C548.0 287.2 547.2 285.0 546.7 283.8 C546.2 282.6 545.0 281.9 545.0 280.7 C545.0 279.5 546.6 277.8 546.7 276.6 C546.8 275.4 545.3 274.2 545.6 273.5 C545.9 272.8 547.7 273.0 548.7 272.5 C549.7 272.0 550.9 271.4 551.8 270.5 C552.6 269.6 553.6 268.4 553.8 267.4 C554.0 266.4 552.4 265.6 552.8 264.7 C553.1 263.8 554.7 262.7 555.9 261.9 C557.1 261.1 558.6 260.4 560.0 259.8 C561.4 259.2 562.9 258.5 564.1 258.6 C565.3 258.7 566.2 259.4 567.1 260.2 C568.0 261.0 568.5 263.1 569.2 263.3 C570.0 263.5 570.9 261.2 571.6 261.6 C572.4 262.0 573.4 264.8 573.7 265.4" fill="none" stroke="#7a0c00" stroke-width="5.04" stroke-linejoin="round" stroke-linecap="round"/>
<path d="M523.1 303.6 C523.3 304.3 523.4 306.5 524.1 307.7 C524.8 308.9 526.2 310.4 527.2 311.0 C528.2 311.6 529.3 311.7 530.3 311.0 C531.3 310.3 532.9 307.6 533.4 306.9" fill="none" stroke="#f04810" stroke-width="3.7" stroke-linejoin="round" stroke-linecap="round"/>
<path d="M533.4 306.9 C534.1 306.0 536.2 303.1 537.4 301.6 C538.6 300.1 539.6 299.4 540.5 298.1 C541.4 296.8 542.1 295.2 543.0 294.0 C543.9 292.8 544.7 291.9 545.6 290.9 C546.5 289.9 547.8 288.4 548.3 287.9" fill="none" stroke="#f04810" stroke-width="2.664" stroke-linejoin="round" stroke-linecap="round"/>
<path d="M548.3 287.9 C548.0 287.2 547.2 285.0 546.7 283.8 C546.2 282.6 545.0 281.9 545.0 280.7 C545.0 279.5 546.6 277.8 546.7 276.6 C546.8 275.4 545.3 274.2 545.6 273.5 C545.9 272.8 547.7 273.0 548.7 272.5 C549.7 272.0 550.9 271.4 551.8 270.5 C552.6 269.6 553.6 268.4 553.8 267.4 C554.0 266.4 552.4 265.6 552.8 264.7 C553.1 263.8 554.7 262.7 555.9 261.9 C557.1 261.1 558.6 260.4 560.0 259.8 C561.4 259.2 562.9 258.5 564.1 258.6 C565.3 258.7 566.2 259.4 567.1 260.2 C568.0 261.0 568.5 263.1 569.2 263.3 C570.0 263.5 570.9 261.2 571.6 261.6 C572.4 262.0 573.4 264.8 573.7 265.4" fill="none" stroke="#f04810" stroke-width="3.8850000000000002" stroke-linejoin="round" stroke-linecap="round"/>
<path d="M523.1 303.6 C523.3 304.3 523.4 306.5 524.1 307.7 C524.8 308.9 526.2 310.4 527.2 311.0 C528.2 311.6 529.3 311.7 530.3 311.0 C531.3 310.3 532.9 307.6 533.4 306.9" fill="none" stroke="#ffc878" stroke-width="2.7" stroke-linejoin="round" stroke-linecap="round"/>
<path d="M533.4 306.9 C534.1 306.0 536.2 303.1 537.4 301.6 C538.6 300.1 539.6 299.4 540.5 298.1 C541.4 296.8 542.1 295.2 543.0 294.0 C543.9 292.8 544.7 291.9 545.6 290.9 C546.5 289.9 547.8 288.4 548.3 287.9" fill="none" stroke="#ffc878" stroke-width="2.0250000000000004" stroke-linejoin="round" stroke-linecap="round"/>
<path d="M548.3 287.9 C548.0 287.2 547.2 285.0 546.7 283.8 C546.2 282.6 545.0 281.9 545.0 280.7 C545.0 279.5 546.6 277.8 546.7 276.6 C546.8 275.4 545.3 274.2 545.6 273.5 C545.9 272.8 547.7 273.0 548.7 272.5 C549.7 272.0 550.9 271.4 551.8 270.5 C552.6 269.6 553.6 268.4 553.8 267.4 C554.0 266.4 552.4 265.6 552.8 264.7 C553.1 263.8 554.7 262.7 555.9 261.9 C557.1 261.1 558.6 260.4 560.0 259.8 C561.4 259.2 562.9 258.5 564.1 258.6 C565.3 258.7 566.2 259.4 567.1 260.2 C568.0 261.0 568.5 263.1 569.2 263.3 C570.0 263.5 570.9 261.2 571.6 261.6 C572.4 262.0 573.4 264.8 573.7 265.4" fill="none" stroke="#ffc878" stroke-width="2.8350000000000004" stroke-linejoin="round" stroke-linecap="round"/>
</g>
<path d="M522.6 304.0 C522.8 304.7 522.9 306.9 523.6 308.1 C524.3 309.3 525.7 310.8 526.7 311.4 C527.7 311.9 528.8 312.1 529.8 311.4 C530.8 310.7 531.7 308.9 532.9 307.3 C534.1 305.7 535.7 303.5 536.9 302.0 C538.1 300.5 539.1 299.8 540.0 298.5 C540.9 297.2 541.6 295.6 542.5 294.4 C543.4 293.2 544.2 292.3 545.1 291.3 C546.0 290.3 547.6 289.5 547.8 288.3 C548.0 287.1 546.8 285.4 546.2 284.2 C545.7 283.0 544.5 282.3 544.5 281.1 C544.5 279.9 546.1 278.2 546.2 277.0 C546.3 275.8 544.8 274.6 545.1 273.9 C545.4 273.2 547.2 273.4 548.2 272.9 C549.2 272.4 550.4 271.8 551.3 270.9 C552.1 270.0 553.1 268.8 553.3 267.8 C553.5 266.8 551.9 266.0 552.3 265.1 C552.6 264.2 554.2 263.1 555.4 262.3 C556.6 261.5 558.1 260.8 559.5 260.2 C560.9 259.6 562.4 258.9 563.6 259.0 C564.8 259.1 565.8 259.8 566.6 260.6 C567.5 261.4 568.0 263.5 568.7 263.7 C569.5 263.9 570.4 261.6 571.1 262.0 C571.9 262.4 572.9 265.2 573.2 265.8" fill="none" stroke="#c8f0e8" stroke-width="1.7" stroke-linejoin="round" stroke-linecap="round"/>
<path d="M523.1 303.6 C523.3 304.3 523.4 306.5 524.1 307.7 C524.8 308.9 526.2 310.4 527.2 311.0 C528.2 311.6 529.3 311.7 530.3 311.0 C531.3 310.3 532.2 308.5 533.4 306.9 C534.6 305.3 536.2 303.1 537.4 301.6 C538.6 300.1 539.6 299.4 540.5 298.1 C541.4 296.8 542.1 295.2 543.0 294.0 C543.9 292.8 544.7 291.9 545.6 290.9 C546.5 289.9 548.1 289.1 548.3 287.9 C548.5 286.7 547.2 285.0 546.7 283.8 C546.2 282.6 545.0 281.9 545.0 280.7 C545.0 279.5 546.6 277.8 546.7 276.6 C546.8 275.4 545.3 274.2 545.6 273.5 C545.9 272.8 547.7 273.0 548.7 272.5 C549.7 272.0 550.9 271.4 551.8 270.5 C552.6 269.6 553.6 268.4 553.8 267.4 C554.0 266.4 552.4 265.6 552.8 264.7 C553.1 263.8 554.7 262.7 555.9 261.9 C557.1 261.1 558.6 260.4 560.0 259.8 C561.4 259.2 562.9 258.5 564.1 258.6 C565.3 258.7 566.2 259.4 567.1 260.2 C568.0 261.0 568.5 263.1 569.2 263.3 C570.0 263.5 570.9 261.2 571.6 261.6 C572.4 262.0 573.4 264.8 573.7 265.4" fill="none" stroke="#ffffff" stroke-width="1.4" stroke-linejoin="round" stroke-linecap="round"/>
<circle cx="571.6" cy="261.3" r="1.5" fill="#e83010" opacity="0.85"/>
<circle cx="546.2" cy="279.5" r="1.4" fill="#e83010" opacity="0.85"/>
<circle cx="544.2" cy="294.5" r="1.3" fill="#e83010" opacity="0.85"/>
<circle cx="553.5" cy="266.5" r="1.3" fill="#e83010" opacity="0.85"/>
<path d="M568.8 272.8L577.9 271.4L574.3 265Z" fill="#38b4dc"/>
<path d="M571.4 269L574.4 266.6L574.6 270Z" fill="#1c3058"/>
<text x="613.2" y="314.6" font-size="14" text-anchor="start" fill="#fff" textLength="24" lengthAdjust="spacingAndGlyphs">205</text>
</svg>
</body></html>
